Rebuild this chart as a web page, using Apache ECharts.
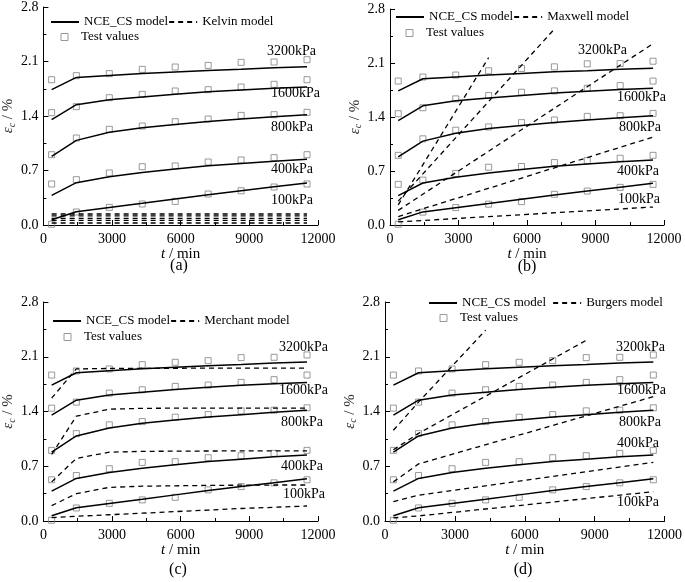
<!DOCTYPE html>
<html><head><meta charset="utf-8">
<script src="https://cdn.jsdelivr.net/npm/echarts@6/dist/echarts.min.js"></script>
<style>html,body{margin:0;padding:0;background:#fff}#c{width:685px;height:582px}</style>
</head><body><div id="c"></div>
<script>
// ---------- data ----------
const times = [360, 1440, 2880, 4320, 5760, 7200, 8640, 10080, 11520];
const pressureLabels = ['100kPa', '400kPa', '800kPa', '1600kPa', '3200kPa'];
const xTickValues = [0, 3000, 6000, 9000, 12000];
const yTickValues = [0.0, 0.7, 1.4, 2.1, 2.8];
const panelLetters = ['(a)', '(b)', '(c)', '(d)'];
const modelNames = ['Kelvin model', 'Maxwell model', 'Merchant model', 'Burgers model'];

// test values (same in every panel)
const test100 = [0.01, 0.167, 0.226, 0.27, 0.303, 0.398, 0.44, 0.488, 0.527];
const test400 = [0.527, 0.582, 0.668, 0.749, 0.758, 0.809, 0.835, 0.865, 0.903];
const test800 = [0.903, 1.117, 1.229, 1.271, 1.327, 1.361, 1.408, 1.417, 1.447];
const test1600 = [1.443, 1.52, 1.635, 1.678, 1.721, 1.738, 1.772, 1.807, 1.866];
const test3200 = [1.866, 1.918, 1.944, 1.999, 2.029, 2.05, 2.089, 2.093, 2.123];

// NCE_CS model (same in every panel)
const nce100 = [0.068, 0.17, 0.225, 0.278, 0.334, 0.389, 0.44, 0.49, 0.54];
const nce400 = [0.381, 0.544, 0.62, 0.675, 0.72, 0.76, 0.79, 0.82, 0.843];
const nce800 = [0.882, 1.087, 1.19, 1.25, 1.29, 1.33, 1.36, 1.39, 1.417];
const nce1600 = [1.353, 1.545, 1.61, 1.645, 1.68, 1.71, 1.735, 1.755, 1.772];
const nce3200 = [1.738, 1.896, 1.92, 1.945, 1.965, 1.985, 2.0, 2.02, 2.033];

// Kelvin model (flat)
const kelvinTimes = [360, 11520];
const kelvin100 = [0.026, 0.026];
const kelvin400 = [0.059, 0.059];
const kelvin800 = [0.085, 0.085];
const kelvin1600 = [0.116, 0.116];
const kelvin3200 = [0.141, 0.141];

// Maxwell model [t, value]
const maxwell100 = [[360, 0.04], [11520, 0.233]];
const maxwell400 = [[360, 0.11], [11520, 1.14]];
const maxwell800 = [[360, 0.19], [11520, 2.35]];
const maxwell1600 = [[360, 0.31], [7200, 2.54]];
const maxwell3200 = [[360, 0.26], [4320, 2.17]];

// Merchant model (at times)
const merchant100 = [0.043, 0.06, 0.08, 0.10, 0.12, 0.14, 0.16, 0.175, 0.192];
const merchant400 = [0.196, 0.35, 0.43, 0.445, 0.45, 0.455, 0.458, 0.46, 0.46];
const merchant800 = [0.50, 0.80, 0.88, 0.89, 0.893, 0.895, 0.896, 0.897, 0.897];
const merchant1600 = [0.85, 1.34, 1.43, 1.44, 1.443, 1.443, 1.443, 1.443, 1.443];
const merchant3200 = [1.57, 1.945, 1.95, 1.952, 1.953, 1.954, 1.955, 1.955, 1.955];

// Burgers model [t, value]
const burgers100 = [[360, 0.04], [1440, 0.065], [11520, 0.375]];
const burgers400 = [[360, 0.247], [1440, 0.33], [11520, 0.75]];
const burgers800 = [[360, 0.50], [1440, 0.73], [11520, 1.59]];
const burgers1600 = [[360, 0.91], [1440, 1.12], [8640, 2.31]];
const burgers3200 = [[360, 1.16], [1440, 1.52], [4320, 2.44]];

// ---------- build ----------
const FONT = "'Liberation Serif', 'Times New Roman', serif";
const zip = (xs, ys) => xs.map((x, i) => [x, ys[i]]);

const testSets = [test100, test400, test800, test1600, test3200];
const nceSets = [nce100, nce400, nce800, nce1600, nce3200];
const modelSets = [
  [kelvin100, kelvin400, kelvin800, kelvin1600, kelvin3200].map(v => zip(kelvinTimes, v)),
  [maxwell100, maxwell400, maxwell800, maxwell1600, maxwell3200],
  [merchant100, merchant400, merchant800, merchant1600, merchant3200].map(v => zip(times, v)),
  [burgers100, burgers400, burgers800, burgers1600, burgers3200]
];

const grids = [
  {left: 42, top: 7, width: 276, height: 218},
  {left: 390, top: 9, width: 274, height: 216},
  {left: 42, top: 302, width: 276, height: 219},
  {left: 385, top: 302, width: 280, height: 219}
];

const labelPos = [
  [[271, 200], [271, 169], [271, 127], [271, 93], [267, 51]],
  [[618, 199], [617, 171], [619, 127], [617, 97], [578, 50]],
  [[283, 494], [281, 466], [281, 422], [279, 390], [279, 347]],
  [[617, 502], [617, 443], [619, 422], [617, 390], [616, 347]]
];
const letterPos = [[179, 266], [527, 267], [178, 570], [523, 570]];
const legendRow1 = [[50, 23, 0], [395, 18, 0], [52, 322, 0], [428, 304, 6]];
const legendRow2 = [[64, 38], [409, 34], [67, 338], [443, 319]];

const xAxes = [], yAxes = [], series = [], legends = [], graphics = [];
const axisCommon = {
  axisLine: {show: true, onZero: false, lineStyle: {color: '#000', width: 1}},
  axisTick: {show: true, inside: true, length: 5, lineStyle: {color: '#000'}},
  minorTick: {show: true, splitNumber: 2, length: 3, lineStyle: {color: '#000'}},
  splitLine: {show: false},
  minorSplitLine: {show: false}
};

for (let p = 0; p < 4; p++) {
  xAxes.push(Object.assign({}, axisCommon, {
    type: 'value', gridIndex: p,
    min: xTickValues[0], max: xTickValues[xTickValues.length - 1],
    interval: xTickValues[1] - xTickValues[0],
    axisLabel: {color: '#000', fontFamily: FONT, fontSize: 14, margin: 7,
      formatter: v => String(v)},
    name: '{i|t}{n| / min}', nameLocation: 'middle', nameGap: 22,
    nameTextStyle: {color: '#000', rich: {
      i: {fontFamily: FONT, fontSize: 15, fontStyle: 'italic', color: '#000'},
      n: {fontFamily: FONT, fontSize: 15, color: '#000'}
    }}
  }));
  yAxes.push(Object.assign({}, axisCommon, {
    type: 'value', gridIndex: p,
    min: yTickValues[0], max: yTickValues[yTickValues.length - 1],
    interval: yTickValues[1] - yTickValues[0],
    axisLabel: {color: '#000', fontFamily: FONT, fontSize: 14, margin: 5,
      formatter: v => v.toFixed(1)},
    name: '{e|ε}{c|c}{n| / %}', nameLocation: 'middle', nameGap: 24,
    nameTextStyle: {color: '#333', rich: {
      e: {fontFamily: FONT, fontSize: 15, fontStyle: 'italic', color: '#333'},
      c: {fontFamily: FONT, fontSize: 10, fontStyle: 'italic', color: '#333', padding: [7, 0, 0, 0]},
      n: {fontFamily: FONT, fontSize: 15, color: '#333'}
    }}
  }));

  for (let k = 0; k < 5; k++) {
    series.push({
      type: 'scatter', name: 'Test values', xAxisIndex: p, yAxisIndex: p,
      data: zip(times, testSets[k]), symbol: 'rect', symbolSize: 6,
      itemStyle: {color: 'rgba(255,255,255,0)', borderColor: '#808080', borderWidth: 1},
      silent: true, z: 2
    });
    series.push({
      type: 'line', name: 'NCE_CS model', xAxisIndex: p, yAxisIndex: p,
      data: zip(times, nceSets[k]), symbol: 'none',
      lineStyle: {color: '#000', width: 1.5, type: 'solid'}, itemStyle: {color: '#000'},
      silent: true, z: 3
    });
    series.push({
      type: 'line', name: modelNames[p], xAxisIndex: p, yAxisIndex: p,
      data: modelSets[p][k], symbol: 'none',
      lineStyle: {color: '#000', width: 1.3, type: [5, 4]}, itemStyle: {color: '#000'},
      silent: true, z: 3
    });
  }

  const r1 = legendRow1[p];
  legends.push({
    left: r1[0], top: r1[1] - 7.5, padding: 0, itemWidth: 28, itemHeight: 14, itemGap: r1[2],
    data: [
      {name: 'NCE_CS model', itemStyle: {opacity: 0}},
      {name: modelNames[p], itemStyle: {opacity: 0}}
    ],
    selectedMode: false,
    textStyle: {fontFamily: FONT, fontSize: 13, color: '#000'}
  });
  const r2 = legendRow2[p];
  legends.push({
    left: r2[0] - 3.5, top: r2[1] - 7.5, padding: 0, itemWidth: 7, itemHeight: 7,
    data: [{name: 'Test values', icon: 'rect',
      itemStyle: {color: 'rgba(255,255,255,0)', borderColor: '#808080', borderWidth: 1}}],
    selectedMode: false,
    textStyle: {fontFamily: FONT, fontSize: 13, color: '#000', padding: [0, 0, 0, 8]}
  });

  for (let k = 0; k < 5; k++) {
    graphics.push({type: 'text', x: labelPos[p][k][0], y: labelPos[p][k][1], silent: true,
      style: {text: pressureLabels[k], fontFamily: FONT, fontSize: 14, fill: '#000',
        align: 'left', verticalAlign: 'middle'}});
  }
  graphics.push({type: 'text', x: letterPos[p][0], y: letterPos[p][1], silent: true,
    style: {text: panelLetters[p], fontFamily: FONT, fontSize: 16, fill: '#000',
      align: 'center', verticalAlign: 'middle'}});
}

const chart = echarts.init(document.getElementById('c'), null, {renderer: 'canvas'});
chart.setOption({
  animation: false,
  backgroundColor: '#fff',
  textStyle: {fontFamily: FONT},
  grid: grids,
  xAxis: xAxes,
  yAxis: yAxes,
  legend: legends,
  series: series,
  graphic: graphics
});
</script></body></html>
